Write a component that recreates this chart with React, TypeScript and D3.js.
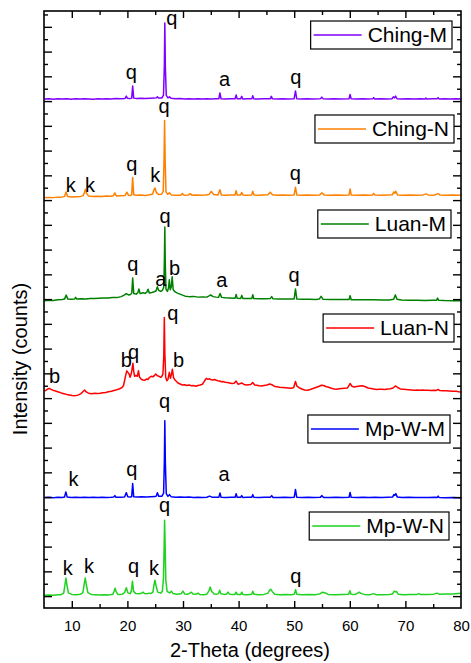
import React, { useEffect, useRef } from 'react';
import * as d3 from 'd3';

// ---------- data ----------
const xTicks = [10, 20, 30, 40, 50, 60, 70, 80];
const sampleNames = ['Ching-M', 'Ching-N', 'Luan-M', 'Luan-N', 'Mp-W-M', 'Mp-W-N'];
const sampleColors = ['#8000ff', '#ff8000', '#008000', '#ff0000', '#0000ff', '#1ed21e'];
const sampleOffsets = [20100, 16150, 11950, 8300, 4000, 60];

const chingM: [number, number][] = [
  [5,0],[5.8,15],[6.6,-5],[7.4,10],[8.2,0],[9,15],[9.8,-5],[10.6,10],[11.4,0],[12.2,15],[13,5],[13.8,-5],[14.6,10],[15.4,0],[16.2,15],[17,5],[17.8,20],[18.6,10],[19.4,25],[19.55,40],[19.72,120],[19.9,35],[20.4,20],[20.68,40],[20.86,530],[21.04,40],[21.6,25],[22.4,35],[23.2,20],[24,35],[24.8,40],[25.12,50],[25.3,95],[25.5,45],[26.1,45],[26.4,160],[26.56,1400],[26.64,3080],[26.74,1300],[26.9,150],[27.2,50],[27.48,90],[27.8,30],[28.6,15],[29.4,25],[30.2,5],[31,15],[31.8,0],[32.6,15],[33.4,5],[34.2,15],[35,5],[35.8,15],[36.35,10],[36.55,250],[36.75,15],[37.5,0],[38.4,15],[39.28,15],[39.47,170],[39.66,10],[40.28,10],[40.46,110],[40.66,5],[41.5,10],[42.28,10],[42.46,140],[42.64,10],[43.4,0],[44.3,10],[45.6,10],[45.8,110],[46.0,10],[46.9,0],[47.8,10],[48.8,0],[49.9,15],[50.14,330],[50.36,15],[51.2,5],[52.2,10],[53.2,0],[54.6,10],[54.87,80],[55.12,10],[56.1,0],[57.1,10],[58.2,0],[59.78,15],[59.96,190],[60.16,10],[61.1,0],[62.2,10],[63.2,0],[64.02,10],[64.2,60],[64.4,0],[65.4,10],[66.6,0],[67.5,15],[67.74,90],[67.96,50],[68.14,120],[68.4,15],[69.2,0],[70.3,10],[71.5,0],[72.6,10],[73.4,0],[73.6,40],[73.8,0],[74.8,10],[75.62,10],[75.8,60],[76.0,0],[77,10],[78,0],[79,10],[80,0]
];

const chingN: [number, number][] = [
  [5,-30],[5.8,-20],[6.6,-30],[7.4,-10],[8.2,0],[8.6,20],[8.88,200],[9.15,20],[9.9,0],[10.7,10],[11.5,20],[11.95,50],[12.2,190],[12.36,310],[12.55,150],[12.9,40],[13.7,20],[14.5,30],[15.3,20],[16.1,40],[16.9,30],[17.4,50],[17.65,160],[17.9,40],[18.7,50],[19.5,60],[19.8,190],[20.1,70],[20.5,60],[20.68,90],[20.86,780],[21.04,90],[21.5,70],[22.3,80],[23.1,60],[23.9,90],[24.45,120],[24.7,300],[24.88,360],[25.1,180],[25.5,100],[26.05,110],[26.35,220],[26.5,1500],[26.6,3090],[26.7,1500],[26.85,200],[27.15,100],[27.48,170],[27.8,80],[28.6,70],[29.5,70],[29.8,140],[30.1,70],[30.9,80],[31.2,130],[31.5,70],[32.3,80],[33.1,70],[33.9,80],[34.6,100],[35.0,220],[35.4,100],[36.2,80],[36.55,290],[36.8,80],[37.5,70],[38.4,80],[39.28,80],[39.47,250],[39.66,80],[40.28,80],[40.46,180],[40.66,80],[41.4,70],[42.26,80],[42.46,230],[42.66,80],[43.5,70],[44.4,80],[45.2,90],[45.6,190],[46.0,90],[46.8,70],[47.8,80],[48.8,70],[49.9,80],[50.14,390],[50.38,80],[51.2,70],[52.2,80],[53.3,70],[54.5,80],[54.9,160],[55.3,80],[56.3,70],[57.5,80],[58.7,70],[59.78,80],[59.96,320],[60.16,80],[61.2,70],[62.4,80],[63.4,70],[64.02,80],[64.2,140],[64.4,80],[65.6,70],[66.8,80],[67.6,90],[67.8,200],[68.0,150],[68.16,230],[68.5,80],[69.5,70],[70.7,80],[71.9,70],[73.1,80],[73.6,120],[74.0,80],[75.1,70],[75.8,130],[76.1,80],[77.3,70],[78.5,80],[79.4,70],[80,80]
];

const luanM: [number, number][] = [
  [5,0],[5.8,20],[6.6,10],[7.4,40],[8.2,50],[8.6,70],[8.9,230],[9.2,70],[9.8,60],[10.4,70],[10.6,140],[10.8,70],[11.6,80],[12.4,70],[13.2,90],[14,90],[14.8,100],[15.6,110],[16.4,110],[17.2,130],[18,130],[18.8,170],[19.4,240],[19.7,290],[20.1,240],[20.5,260],[20.7,320],[20.86,920],[21.05,300],[21.5,270],[21.8,330],[21.98,480],[22.2,290],[22.7,330],[23.1,300],[23.4,350],[23.62,470],[23.85,320],[24.3,340],[24.7,370],[25.05,400],[25.3,570],[25.55,420],[25.9,380],[26.2,420],[26.45,560],[26.56,1600],[26.64,2980],[26.72,1500],[26.85,470],[27.1,380],[27.3,520],[27.45,850],[27.62,450],[27.8,560],[27.96,970],[28.15,450],[28.5,360],[29.0,300],[29.6,250],[30.3,190],[31,170],[31.8,180],[32.6,150],[33.4,160],[34.2,150],[34.6,200],[34.9,240],[35.3,170],[35.9,150],[36.3,140],[36.58,300],[36.85,140],[37.5,120],[38.3,110],[39.28,100],[39.47,260],[39.66,100],[40.28,95],[40.48,220],[40.68,95],[41.5,90],[42.28,90],[42.46,250],[42.64,90],[43.6,85],[44.8,80],[45.6,90],[45.86,170],[46.1,80],[47.2,75],[48.4,70],[49.9,75],[50.14,480],[50.38,70],[51.4,60],[52.6,65],[53.8,55],[54.4,70],[54.75,180],[55.1,60],[56.4,55],[57.8,50],[59.78,50],[59.96,210],[60.16,45],[61.4,40],[62.8,45],[64.2,40],[65.6,35],[67,30],[67.8,60],[68.1,240],[68.4,60],[69.2,30],[70.6,25],[72,25],[73.4,15],[74.8,20],[75.5,20],[75.7,110],[75.9,20],[77,10],[78.4,5],[80,0]
];

const luanN: [number, number][] = [
  [5,0],[5.3,40],[5.6,90],[5.85,115],[6.1,80],[6.5,40],[7,10],[7.5,-30],[8,-70],[8.5,-100],[9,-130],[9.5,-150],[10,-170],[10.5,-180],[11,-160],[11.5,-110],[11.9,-20],[12.2,50],[12.5,-30],[12.9,-80],[13.5,-100],[14,-80],[14.5,-90],[15,-80],[15.5,-60],[16,-50],[16.5,-20],[17,0],[17.5,30],[18,60],[18.5,100],[18.9,140],[19.2,220],[19.4,420],[19.6,640],[19.8,820],[20.0,760],[20.2,700],[20.4,560],[20.6,700],[20.75,900],[20.9,1130],[21.05,800],[21.2,600],[21.45,640],[21.7,600],[21.9,830],[22.1,560],[22.4,480],[22.7,450],[23.0,440],[23.3,490],[23.6,470],[23.9,560],[24.2,600],[24.5,580],[24.8,640],[25.0,690],[25.3,620],[25.6,600],[25.9,560],[26.1,600],[26.3,700],[26.45,1400],[26.55,2980],[26.65,1500],[26.8,560],[27.0,420],[27.2,480],[27.45,760],[27.65,520],[27.85,700],[28.0,890],[28.2,560],[28.4,470],[28.7,400],[29.0,330],[29.4,290],[29.8,250],[30.2,260],[30.6,230],[31.0,250],[31.4,220],[31.8,230],[32.2,200],[32.6,230],[33.0,250],[33.4,280],[33.8,420],[34.1,520],[34.4,480],[34.7,500],[35.0,460],[35.3,450],[35.6,470],[35.9,440],[36.2,420],[36.5,410],[36.8,380],[37.1,390],[37.5,360],[37.9,350],[38.3,330],[38.7,310],[39.1,320],[39.47,410],[39.8,280],[40.1,300],[40.5,330],[40.9,270],[41.3,250],[41.7,260],[42.1,270],[42.45,350],[42.8,250],[43.2,240],[43.6,220],[44.0,210],[44.5,230],[45.0,250],[45.5,290],[45.9,260],[46.3,200],[46.8,180],[47.3,160],[47.8,150],[48.3,140],[48.8,130],[49.3,120],[49.8,140],[50.14,390],[50.4,200],[50.8,140],[51.3,90],[51.8,50],[52.3,40],[52.8,70],[53.3,110],[53.8,150],[54.3,190],[54.8,240],[55.2,230],[55.6,190],[56.1,160],[56.6,120],[57.1,90],[57.5,80],[58,100],[58.5,110],[59,120],[59.5,130],[59.96,310],[60.3,200],[60.7,170],[61.2,190],[61.7,210],[62.2,220],[62.7,180],[63.2,130],[63.7,110],[64.2,90],[64.7,70],[65.2,80],[65.7,80],[66.2,70],[66.7,90],[67.2,100],[67.7,130],[68.1,210],[68.5,150],[69.0,90],[69.5,80],[70.0,70],[70.5,60],[71.0,50],[71.5,40],[72.0,50],[72.5,40],[73.0,45],[73.5,35],[74.0,40],[74.5,30],[75.0,35],[75.5,30],[75.8,70],[76.1,25],[76.6,20],[77.2,15],[77.8,10],[78.4,0],[79.0,-5],[79.5,-20],[80,-30]
];

const mpWM: [number, number][] = [
  [5,0],[5.8,10],[6.6,-5],[7.4,10],[8.2,5],[8.6,20],[8.84,230],[9.08,20],[9.8,0],[10.6,10],[11.4,0],[12.2,15],[13,5],[13.8,10],[14.6,0],[15.4,10],[16.2,5],[17,10],[17.45,20],[17.65,80],[17.85,15],[18.6,15],[19.4,25],[19.72,200],[19.98,30],[20.5,20],[20.68,40],[20.86,570],[21.04,35],[21.7,25],[22.5,30],[23.3,20],[24.1,30],[24.9,40],[25.1,60],[25.3,200],[25.55,50],[26.1,50],[26.42,180],[26.56,1500],[26.64,3110],[26.74,1400],[26.9,160],[27.2,50],[27.48,120],[27.8,30],[28.6,15],[29.4,25],[30.2,10],[31,20],[31.8,5],[32.6,15],[33.4,5],[34.2,15],[34.7,60],[35.2,10],[36,10],[36.35,10],[36.56,190],[36.76,10],[37.6,0],[38.5,10],[39.28,10],[39.47,160],[39.66,10],[40.28,10],[40.46,80],[40.66,5],[41.5,10],[42.28,10],[42.46,120],[42.64,10],[43.5,0],[44.6,10],[45.6,10],[45.86,80],[46.1,5],[47.1,0],[48.2,10],[49.2,0],[49.92,15],[50.14,330],[50.36,15],[51.3,5],[52.4,10],[53.5,0],[54.6,10],[54.9,80],[55.2,5],[56.3,0],[57.4,10],[58.6,0],[59.78,15],[59.96,210],[60.16,10],[61.2,0],[62.3,10],[63.4,0],[64.4,10],[65.6,0],[66.8,10],[67.6,20],[67.84,120],[68.0,90],[68.18,160],[68.45,20],[69.3,0],[70.5,10],[71.7,0],[72.9,5],[74.1,0],[75.2,10],[75.62,5],[75.8,60],[76.0,0],[77.1,-5],[78.3,5],[79.4,-10],[80,-15]
];

const mpWN: [number, number][] = [
  [5,0],[5.8,10],[6.6,0],[7.4,15],[8.0,20],[8.45,80],[8.7,450],[8.85,690],[9.0,450],[9.3,90],[9.9,30],[10.7,20],[11.5,40],[11.9,100],[12.15,450],[12.33,690],[12.5,450],[12.8,100],[13.4,30],[14.2,20],[15,10],[15.8,20],[16.6,10],[17.3,40],[17.5,150],[17.7,280],[17.9,130],[18.2,30],[19.0,40],[19.4,100],[19.72,300],[20.0,90],[20.4,60],[20.62,160],[20.82,565],[21.02,150],[21.4,70],[22.0,60],[22.45,80],[22.7,120],[22.95,70],[23.5,60],[23.8,80],[24.1,60],[24.5,120],[24.7,420],[24.86,605],[25.05,400],[25.35,120],[25.9,80],[26.2,160],[26.4,700],[26.52,2000],[26.6,3030],[26.7,2000],[26.82,600],[27.05,150],[27.5,90],[27.8,160],[28.1,70],[28.8,40],[29.6,60],[29.9,160],[30.2,50],[30.8,40],[31.2,90],[31.4,120],[31.7,50],[32.3,40],[32.6,80],[32.9,30],[33.6,20],[34.2,40],[34.55,160],[34.8,325],[35.05,160],[35.5,50],[36.0,40],[36.3,60],[36.5,200],[36.7,60],[37.3,30],[37.8,50],[38.0,120],[38.3,40],[39.0,30],[39.3,40],[39.47,120],[39.66,30],[40.3,30],[40.48,120],[40.66,30],[41.5,20],[42.28,40],[42.46,160],[42.66,40],[43.5,20],[44.5,30],[45.2,80],[45.5,200],[45.7,240],[45.95,150],[46.4,40],[47.3,20],[48.3,30],[49.3,20],[49.94,40],[50.16,220],[50.36,40],[51.3,20],[52.5,30],[53.8,20],[54.6,60],[55.0,120],[55.5,90],[56,30],[57.2,20],[58.6,30],[59.7,40],[59.92,180],[60.14,40],[60.9,30],[61.3,80],[61.6,120],[61.9,70],[62.5,30],[63.6,20],[64.2,60],[64.6,20],[65.8,20],[67.0,30],[67.6,50],[67.9,160],[68.1,130],[68.3,150],[68.6,40],[69.6,20],[70.8,30],[72.0,30],[72.3,60],[72.6,30],[73.8,30],[75.0,40],[75.6,80],[76.0,40],[77.2,50],[78.4,50],[79.4,70],[80,80]
];

// peak annotations: [2-theta, intensity (absolute), phase letter]
const chingMLabels: [number, number, string][] = [[20.6,20910,'q'],[27.9,23100,'q'],[37.4,20630,'a'],[50.2,20710,'q']];
const chingNLabels: [number, number, string][] = [[9.7,16350,'k'],[13.2,16350,'k'],[20.7,17210,'q'],[24.9,16760,'k'],[26.5,19540,'q'],[50.1,16830,'q']];
const luanMLabels: [number, number, string][] = [[26.7,15080,'q'],[20.9,13150,'q'],[25.9,12550,'a'],[28.4,13000,'b'],[36.9,12500,'a'],[49.9,12720,'q']];
const luanNLabels: [number, number, string][] = [[28.1,11180,'q'],[19.7,9290,'b'],[21.0,9590,'q'],[29.1,9290,'b'],[6.8,8620,'b']];
const mpWMLabels: [number, number, string][] = [[26.6,7610,'q'],[10.2,4470,'k'],[20.7,4870,'q'],[37.3,4670,'a']];
const mpWNLabels: [number, number, string][] = [[26.6,3410,'q'],[9.2,870,'k'],[13.0,940,'k'],[21.0,970,'q'],[24.7,860,'k'],[50.2,540,'q']];

const seriesData = [chingM, chingN, luanM, luanN, mpWM, mpWN];
const seriesLabels = [chingMLabels, chingNLabels, luanMLabels, luanNLabels, mpWMLabels, mpWNLabels];

// ---------- layout ----------
const W = 471, H = 663;
const PL = 44, PR = 461, PT = 11, PB = 608;
const legendTops = [21, 115, 210, 314, 415, 512];
const legendRights = [452, 454, 451, 454, 450, 449];
const FONT = '"Liberation Sans", Arial, Helvetica, sans-serif';

export default function App() {
  const ref = useRef<SVGSVGElement>(null);

  useEffect(() => {
    const svg = d3.select(ref.current);
    svg.selectAll('*').remove();

    const x = d3.scaleLinear().domain([5, 80]).range([44.5, 461.5]);
    const y = d3.scaleLinear().domain([-460, 23660]).range([PB, PT]);

    // traces
    seriesData.forEach((data, i) => {
      const off = sampleOffsets[i];
      const line = d3.line<[number, number]>()
        .x(d => x(d[0]))
        .y(d => y(d[1] + off));
      svg.append('path')
        .attr('d', line(data) as string)
        .attr('fill', 'none')
        .attr('stroke', sampleColors[i])
        .attr('stroke-width', 1.5)
        .attr('stroke-linejoin', 'round');
    });

    // peak labels
    seriesLabels.forEach(labels => {
      labels.forEach(([t, v, s]) => {
        svg.append('text')
          .attr('x', x(t)).attr('y', y(v))
          .attr('text-anchor', 'middle')
          .attr('font-family', FONT).attr('font-size', 20)
          .attr('fill', '#000')
          .text(s);
      });
    });

    // frame
    svg.append('rect')
      .attr('x', PL).attr('y', PT)
      .attr('width', PR - PL).attr('height', PB - PT)
      .attr('fill', 'none').attr('stroke', '#000').attr('stroke-width', 1.6);

    // x ticks (top & bottom, inward)
    const xt = d3.range(10, 80, 5);
    xt.forEach(t => {
      const major = t % 10 === 0;
      const len = major ? 7 : 4;
      const px = x(t);
      svg.append('line').attr('x1', px).attr('x2', px).attr('y1', PB).attr('y2', PB - len)
        .attr('stroke', '#000').attr('stroke-width', 1.4);
      svg.append('line').attr('x1', px).attr('x2', px).attr('y1', PT).attr('y2', PT + len)
        .attr('stroke', '#000').attr('stroke-width', 1.4);
    });
    xTicks.forEach(t => {
      svg.append('text')
        .attr('x', x(t)).attr('y', 630.5)
        .attr('text-anchor', 'middle')
        .attr('font-family', FONT).attr('font-size', 15)
        .text(String(t));
    });

    // y ticks (left & right, inward)
    const yt = d3.range(0, 23660, 500);
    yt.forEach(v => {
      const major = v % 1000 === 0;
      const len = major ? 8 : 4;
      const py = y(v);
      svg.append('line').attr('x1', PL).attr('x2', PL + len).attr('y1', py).attr('y2', py)
        .attr('stroke', '#000').attr('stroke-width', 1.4);
      svg.append('line').attr('x1', PR).attr('x2', PR - len).attr('y1', py).attr('y2', py)
        .attr('stroke', '#000').attr('stroke-width', 1.4);
    });

    // axis titles
    svg.append('text')
      .attr('x', 250).attr('y', 657)
      .attr('text-anchor', 'middle')
      .attr('font-family', FONT).attr('font-size', 20)
      .text('2-Theta (degrees)');
    svg.append('text')
      .attr('transform', 'translate(27,359) rotate(-90)')
      .attr('text-anchor', 'middle')
      .attr('font-family', FONT).attr('font-size', 20)
      .text('Intensity (counts)');

    // legends
    sampleNames.forEach((name, i) => {
      const g = svg.append('g');
      const top = legendTops[i];
      const right = legendRights[i];
      const txt = g.append('text')
        .attr('y', top + 21.3)
        .attr('font-family', FONT).attr('font-size', 21)
        .text(name);
      const tw = (txt.node() as SVGTextElement).getComputedTextLength();
      const boxW = 3 + 48 + 6 + tw + 5;
      const left = right - boxW;
      txt.attr('x', left + 3 + 48 + 6);
      g.insert('rect', 'text')
        .attr('x', left).attr('y', top)
        .attr('width', boxW).attr('height', 28)
        .attr('fill', '#fff').attr('stroke', '#000').attr('stroke-width', 1.2);
      g.append('line')
        .attr('x1', left + 3).attr('x2', left + 51)
        .attr('y1', top + 14).attr('y2', top + 14)
        .attr('stroke', sampleColors[i]).attr('stroke-width', 1.5);
    });
  }, []);

  return (
    <svg
      ref={ref}
      width={W}
      height={H}
      style={{ position: 'absolute', left: 0, top: 0, background: '#fff' }}
    />
  );
}
